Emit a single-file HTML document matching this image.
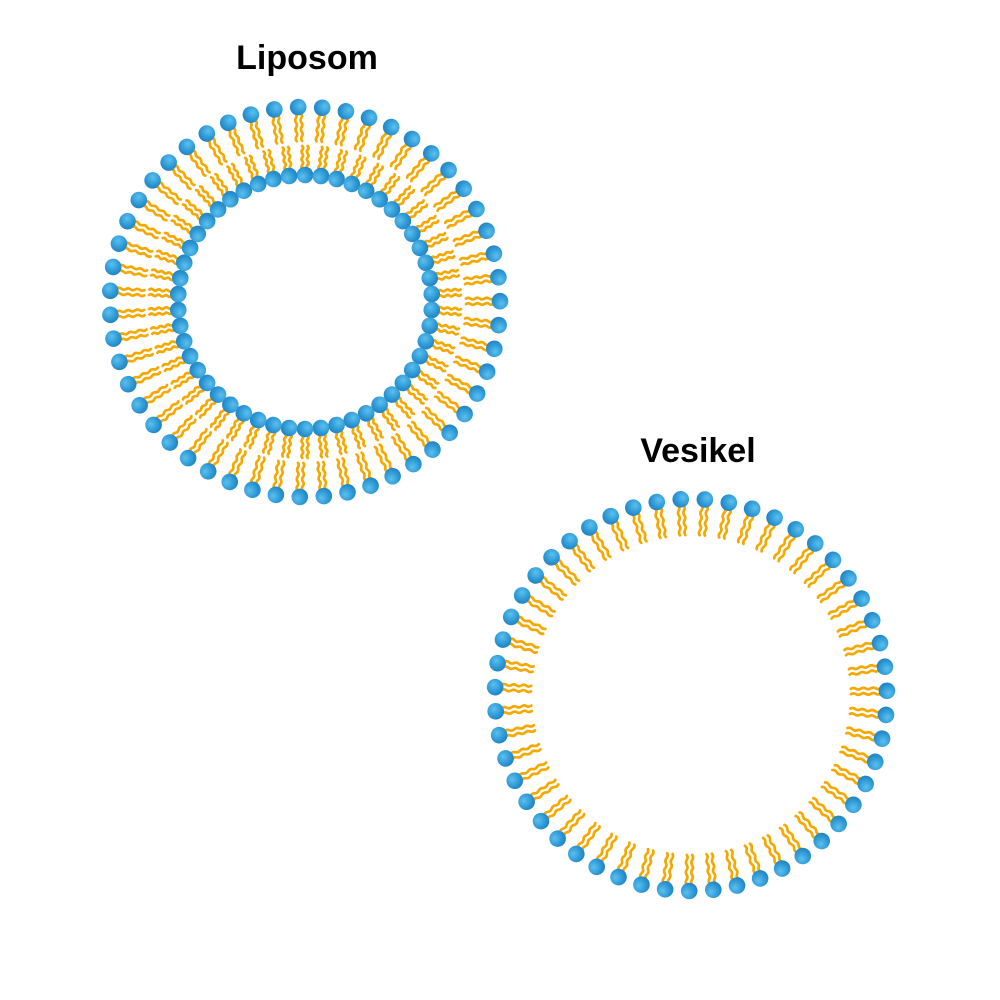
<!DOCTYPE html>
<html><head><meta charset="utf-8"><style>
body{margin:0;background:#fff;width:1000px;height:1000px;overflow:hidden;position:relative;font-family:"Liberation Sans",sans-serif}
.t{position:absolute;font-weight:bold;font-size:34px;color:#000;transform:translateX(-50%)}
svg{position:absolute;left:0;top:0}
</style></head><body>
<div class="t" style="left:307px;top:39px">Liposom</div>
<div class="t" style="left:698px;top:432px">Vesikel</div>
<svg id="s" width="1000" height="1000" viewBox="0 0 1000 1000">
<defs><radialGradient id="g" cx="0.4" cy="0.35" r="0.7"><stop offset="0" stop-color="#5cc0ee"/><stop offset="0.6" stop-color="#2f9ad6"/><stop offset="1" stop-color="#1f7fbf"/></radialGradient></defs>
</svg>
<script>
var s=document.getElementById('s'),h='';
function wave(x0,x1,y){var k=Math.max(1,Math.round((x1-x0)/9)),p=(x1-x0)/k,d='M'+x0+','+y;for(var j=0;j<k;j++){var x=x0+j*p;d+=' Q'+(x+p/4)+','+(y-1.6)+' '+(x+p/2)+','+y+' Q'+(x+3*p/4)+','+(y+1.6)+' '+(x+p)+','+y;}return d;}
function lip(cx,cy,r,a,L,inward,hr){
 var rad=a*Math.PI/180,x=cx+r*Math.cos(rad),y=cy+r*Math.sin(rad);
 var rot=inward?a+180:a;
 h+='<g transform="translate('+x.toFixed(2)+','+y.toFixed(2)+') rotate('+rot.toFixed(2)+')">';
 h+='<path d="'+wave(hr-2,L,-2.7)+'" stroke="#f5a800" stroke-width="2.7" fill="none" stroke-linecap="round"/>';
 h+='<path d="'+wave(hr-2,L,2.7)+'" stroke="#f5a800" stroke-width="2.7" fill="none" stroke-linecap="round"/>';
 h+='<circle r="'+hr+'" fill="url(#g)"/></g>';
}
var n=51,i;
for(i=0;i<n;i++)lip(305,302,195,-92+i*360/n,34,true,8.3);
var m=50;
for(i=0;i<m;i++)lip(305,302,127,-90+i*360/m,29,false,8.3);
for(i=0;i<n;i++)lip(691,695,196,-93+i*360/n,36,true,8.3);
s.insertAdjacentHTML('beforeend',h);
</script>
</body></html>
